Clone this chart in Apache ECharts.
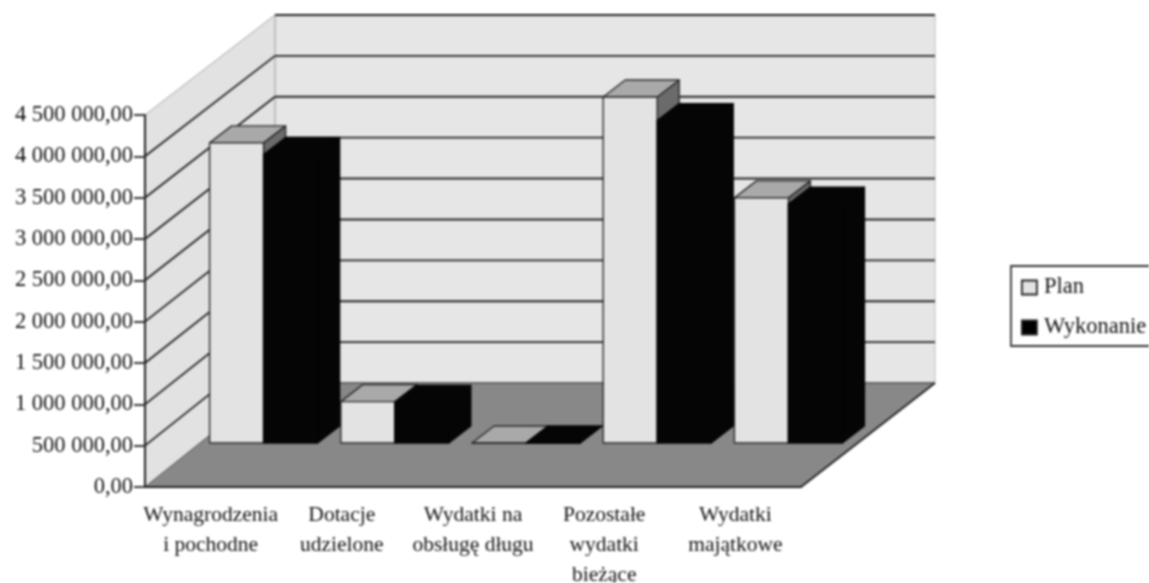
<!DOCTYPE html>
<html>
<head>
<meta charset="utf-8">
<style>
  html, body { margin: 0; padding: 0; background: #fff; overflow: hidden; }
  #chart { width: 1149px; height: 583px; filter: blur(0.9px); }
</style>
<script src="https://cdn.jsdelivr.net/npm/echarts@6/dist/echarts.min.js"></script>
</head>
<body>
<div id="chart"></div>
<script>
const categories = [
  "Wynagrodzenia\ni pochodne",
  "Dotacje\nudzielone",
  "Wydatki na\nobsługę długu",
  "Pozostałe\nwydatki\nbieżące",
  "Wydatki\nmajątkowe",
];
const plan = [3630000, 500000, 0, 4185000, 2965000];
const wykonanie = [3490000, 490000, 0, 3900000, 2890000];
const yTicks = [0, 500000, 1000000, 1500000, 2000000, 2500000, 3000000, 3500000, 4000000, 4500000];

const FONT = "'Liberation Serif', serif";
const yMax = 4500000;

// bars stand part way into the floor, their depth is a pixel shift from the front plane
const barShiftX = 53, barShiftY = -44, barW = 54, depthX = 22, depthY = -17;

function poly(points, fill, stroke, width) {
  return {
    type: "polygon",
    shape: { points: points },
    style: { fill: fill, stroke: stroke, lineWidth: width === undefined ? 1.4 : width, lineJoin: "round" },
  };
}

function line(a, b, stroke, width) {
  return {
    type: "line",
    shape: { x1: a[0], y1: a[1], x2: b[0], y2: b[1] },
    style: { stroke: stroke, lineWidth: width },
  };
}

function renderWalls(params, api) {
  const last = categories.length - 1;
  const half = api.size([1, 0])[0] / 2;
  const frontL = (v) => { const p = api.coord([0, v]); return [p[0] - half, p[1]]; };
  const frontR = (v) => { const p = api.coord([last, v]); return [p[0] + half, p[1]]; };
  // back wall sits a bit closer together than the front plane (perspective in the original)
  const backL = (v) => { const p = frontL(v); return [p[0] + 130, p[1] - 104 + 4 * v / yMax]; };
  const backR = (v) => { const p = frontR(v); return [p[0] + 134, p[1] - 104 + 4 * v / yMax]; };

  const children = [
    poly([backL(0), backR(0), backR(yMax), backL(yMax)], "#e6e6e6", "#bdbdbd", 1),
    poly([frontL(0), backL(0), backL(yMax), frontL(yMax)], "#e2e2e2", "#a6a6a6", 1),
    poly([frontL(0), frontR(0), backR(0), backL(0)], "#888", "#555", 1),
  ];
  yTicks.forEach((v) => {
    if (v > 0 && v < yMax) children.push(line(frontL(v), backL(v), "#222", 1.8));
    children.push(line(backL(v), backR(v), v === 0 ? "#666" : "#222", 1.9));
  });
  children.push(line(frontR(0), backR(0), "#222", 1.8));
  return { type: "group", children: children };
}

function makeBarRender(slot, faces) {
  return function (params, api) {
    const cat = api.value(0);
    const top = api.coord([cat, api.value(1)]);
    const base = api.coord([cat, 0]);
    const x0 = top[0] + barShiftX + (slot - 1) * barW;
    const x1 = x0 + barW;
    const yT = top[1] + barShiftY;
    const yB = base[1] + barShiftY;
    return {
      type: "group",
      children: [
        poly([[x1, yB], [x1 + depthX, yB + depthY], [x1 + depthX, yT + depthY], [x1, yT]], faces.side, faces.edge),
        poly([[x0, yT], [x1, yT], [x1 + depthX, yT + depthY], [x0 + depthX, yT + depthY]], faces.top, faces.edge),
        poly([[x0, yB], [x1, yB], [x1, yT], [x0, yT]], faces.front, faces.edge),
      ],
    };
  };
}

const chart = echarts.init(document.getElementById("chart"));
chart.setOption({
  animation: false,
  backgroundColor: "#fff",
  textStyle: { fontFamily: FONT },
  legend: {
    data: [
      { name: "Plan", icon: "rect" },
      { name: "Wykonanie", icon: "rect" },
    ],
    orient: "vertical",
    left: 1011,
    top: 266,
    padding: [10, 30, 7, 10],
    itemWidth: 15,
    itemHeight: 14,
    itemGap: 17,
    borderColor: "#333",
    borderWidth: 1.8,
    borderRadius: 0,
    selectedMode: false,
    itemStyle: { borderColor: "#222", borderWidth: 1.8 },
    textStyle: { fontFamily: FONT, fontSize: 22.5, color: "#111", padding: [0, 0, 0, 2] },
  },
  grid: { left: 145, right: 348, top: 115, bottom: 96, outerBoundsMode: "none" },
  xAxis: {
    type: "category",
    data: categories,
    z: 3,
    axisLine: { lineStyle: { color: "#222", width: 2 } },
    axisTick: { length: 8, lineStyle: { color: "#222", width: 1.8 } },
    axisLabel: { color: "#111", fontFamily: FONT, fontSize: 21.5, lineHeight: 30, margin: 13, interval: 0 },
  },
  yAxis: {
    type: "value",
    min: 0,
    max: yMax,
    interval: 500000,
    z: 3,
    axisLine: { show: true, lineStyle: { color: "#222", width: 2 } },
    axisTick: { show: true, length: 11, lineStyle: { color: "#222", width: 1.8 } },
    splitLine: { show: false },
    axisLabel: {
      color: "#111",
      fontFamily: FONT,
      fontSize: 22.5,
      margin: 12,
      padding: [2, 0, 0, 0],
      formatter: (v) => String(v).replace(/\B(?=(\d{3})+$)/g, " ") + ",00",
    },
  },
  series: [
    {
      name: "walls",
      type: "custom",
      z: 1,
      silent: true,
      renderItem: renderWalls,
      data: [[0, 0]],
    },
    {
      name: "Plan",
      type: "custom",
      z: 4,
      itemStyle: { color: "#e3e3e3" },
      renderItem: makeBarRender(0, { front: "#e3e3e3", top: "#a9a9a9", side: "#6b6b6b", edge: "#2a2a2a" }),
      data: plan.map((v, i) => [i, v]),
    },
    {
      name: "Wykonanie",
      type: "custom",
      z: 4,
      itemStyle: { color: "#000" },
      renderItem: makeBarRender(1, { front: "#050505", top: "#050505", side: "#050505", edge: "#050505" }),
      data: wykonanie.map((v, i) => [i, v]),
    },
  ],
});
</script>
</body>
</html>
